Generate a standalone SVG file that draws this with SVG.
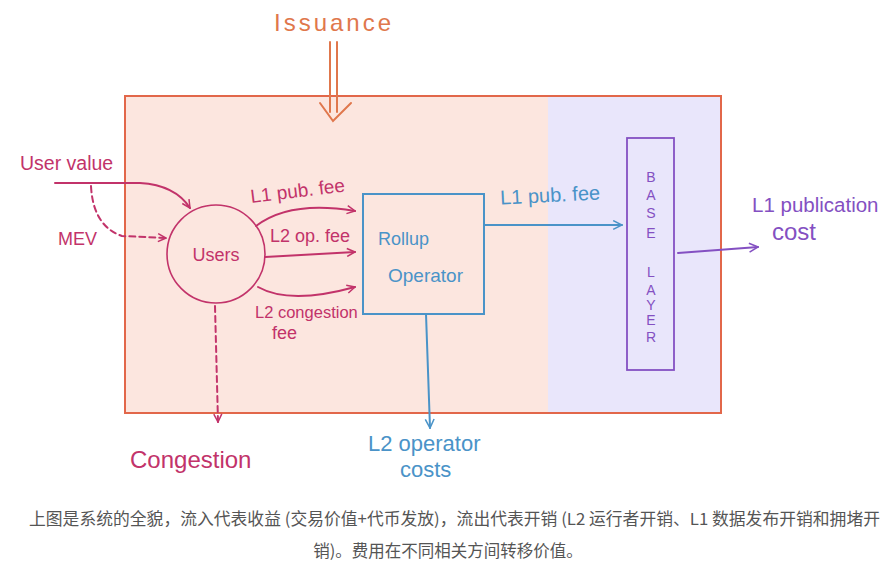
<svg xmlns="http://www.w3.org/2000/svg" width="894" height="569" viewBox="0 0 894 569">
<style>
.hw{font-family:"Liberation Sans","DejaVu Sans",sans-serif}
.mag{fill:#c2336a}
.blu{fill:#4a93c8}
.pur{fill:#8450c2}
.org{fill:#e0774c}
.ln{fill:none;stroke-width:2;stroke-linecap:round}
.cap{font-family:"Noto Sans CJK SC","Noto Sans",sans-serif;font-size:16.5px;fill:#555}
</style>
<defs>
<marker id="am" viewBox="0 0 10 10" refX="9" refY="5" markerWidth="10" markerHeight="10" orient="auto" markerUnits="userSpaceOnUse"><path d="M1,1 L9,5 L1,9" fill="none" stroke="#c2336a" stroke-width="1.5"/></marker>
<marker id="ab" viewBox="0 0 10 10" refX="9" refY="5" markerWidth="11" markerHeight="11" orient="auto" markerUnits="userSpaceOnUse"><path d="M1,1 L9,5 L1,9" fill="none" stroke="#4a93c8" stroke-width="1.4"/></marker>
<marker id="ap" viewBox="0 0 10 10" refX="9" refY="5" markerWidth="11" markerHeight="11" orient="auto" markerUnits="userSpaceOnUse"><path d="M1,1 L9,5 L1,9" fill="none" stroke="#8450c2" stroke-width="1.4"/></marker>
</defs>
<rect width="894" height="569" fill="#fff"/>
<g id="system">
<rect x="125" y="96" width="423" height="317" fill="#fce6df"/>
<rect x="548" y="96" width="173" height="317" fill="#e9e6fb"/>
<rect x="125" y="96" width="596" height="317" fill="none" stroke="#e2674a" stroke-width="2"/>
</g>
<g id="issuance">
<text class="hw org" x="274" y="31" font-size="24" letter-spacing="3">Issuance</text>
</g>
<g id="user-value"><text class="hw mag" x="20" y="170" font-size="19.5">User value</text></g>
<g id="mev"><text class="hw mag" x="58" y="245" font-size="18">MEV</text></g>
<g id="users">
<circle cx="216" cy="254" r="49" fill="none" stroke="#c2336a" stroke-width="1.6"/>
<text class="hw mag" x="216" y="261" font-size="18" text-anchor="middle">Users</text>
</g>
<g id="rollup-operator">
<rect x="363" y="194" width="121" height="120" fill="none" stroke="#4a93c8" stroke-width="2"/>
<text class="hw blu" x="378" y="245" font-size="18">Rollup</text>
<text class="hw blu" x="388" y="282" font-size="19">Operator</text>
</g>
<g id="base-layer">
<rect x="627" y="138" width="47" height="232" fill="none" stroke="#8450c2" stroke-width="1.8"/>
<g class="hw pur" font-size="14" text-anchor="middle">
<text x="651" y="182">B</text><text x="651" y="200">A</text><text x="651" y="218">S</text><text x="651" y="238">E</text>
<text x="651" y="277">L</text><text x="651" y="295">A</text><text x="651" y="310">Y</text><text x="651" y="325">E</text><text x="651" y="342">R</text>
</g>
</g>
<g id="l1-publication-cost">
<text class="hw pur" x="752" y="212" font-size="20.5">L1 publication</text>
<text class="hw pur" x="772" y="240" font-size="24">cost</text>
</g>
<g id="l2-operator-costs">
<text class="hw blu" x="368" y="451" font-size="22">L2 operator</text>
<text class="hw blu" x="400" y="477" font-size="22">costs</text>
</g>
<g id="congestion"><text class="hw mag" x="130" y="468" font-size="24">Congestion</text></g>
<g id="connectors">
<path class="ln" stroke="#e0774c" d="M330,42 L330,112 M337,42 L337,112 M320,103 L333,121 L351,103"/>
<path class="ln" stroke="#c2336a" d="M55,183 L140,183 Q175,185 190,208" marker-end="url(#am)"/>
<path class="ln" stroke="#c2336a" stroke-dasharray="6,4" d="M91,186 Q93,226 122,236 L166,238" marker-end="url(#am)"/>
<path class="ln" stroke="#c2336a" d="M256,226 Q290,200 355,211" marker-end="url(#am)"/>
<text class="hw mag" x="250" y="197" font-size="19" transform="rotate(-7 300 190)">L1 pub. fee</text>
<path class="ln" stroke="#c2336a" d="M265,257 L355,252" marker-end="url(#am)"/>
<text class="hw mag" x="270" y="242" font-size="18">L2 op. fee</text>
<path class="ln" stroke="#c2336a" d="M258,287 Q290,305 355,287" marker-end="url(#am)"/>
<text class="hw mag" x="255" y="318" font-size="16.5">L2 congestion</text>
<text class="hw mag" x="272" y="339" font-size="18">fee</text>
<path class="ln" stroke="#c2336a" stroke-dasharray="6,4" d="M215,306 L218,422" marker-end="url(#am)"/>
<path class="ln" stroke="#4a93c8" d="M484,225 L622,225" marker-end="url(#ab)"/>
<text class="hw blu" x="500" y="202" font-size="20" transform="rotate(-3 550 195)">L1 pub. fee</text>
<path class="ln" stroke="#4a93c8" d="M426,314 L430,428" marker-end="url(#ab)"/>
<path class="ln" stroke="#8450c2" d="M678,253 Q720,250 758,247" marker-end="url(#ap)"/>
</g>
<g id="caption">
<text class="cap" x="29" y="525" textLength="851" lengthAdjust="spacingAndGlyphs">上图是系统的全貌，流入代表收益 (交易价值+代币发放)，流出代表开销 (L2 运行者开销、L1 数据发布开销和拥堵开</text>
<text class="cap" x="448" y="557" text-anchor="middle">销)。费用在不同相关方间转移价值。</text>
</g>
</svg>
